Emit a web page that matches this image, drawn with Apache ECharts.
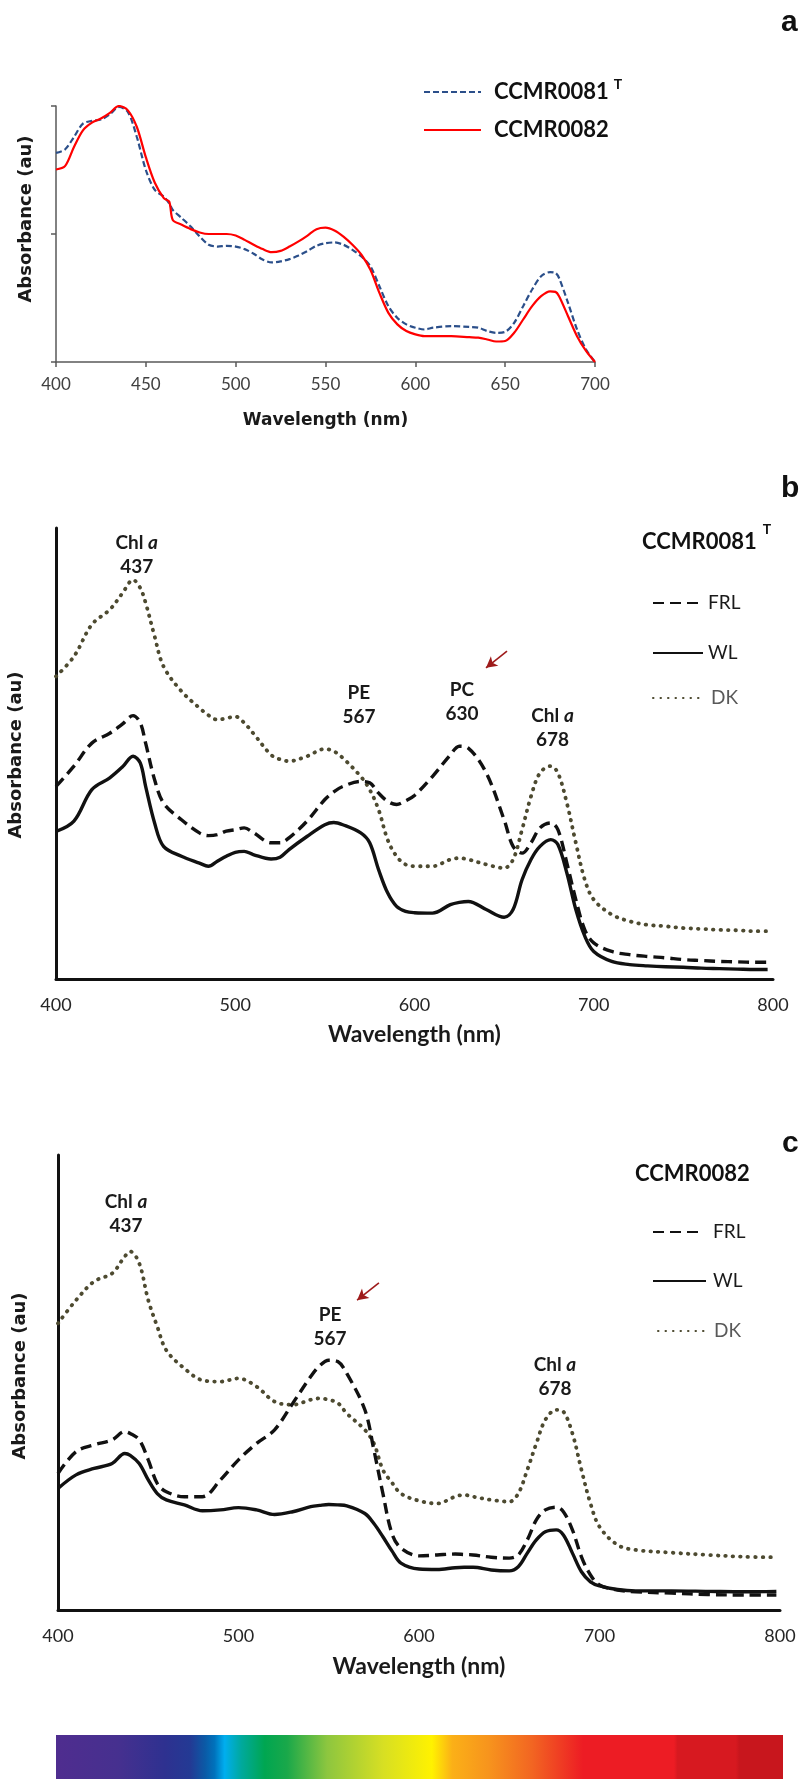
<!DOCTYPE html>
<html>
<head>
<meta charset="utf-8">
<script src="https://cdn.jsdelivr.net/npm/echarts@6/dist/echarts.min.js"></script>
<style>html,body{margin:0;padding:0;background:#fff}#c{width:809px;height:1779px}</style>
</head>
<body>
<div id="c"></div>
<script>
// ---------- Panel a ----------
const wlA = [400,405,410,415,420,425,430,435,440,445,450,455,460,463,465,470,475,480,485,490,495,500,505,510,515,520,525,530,535,540,545,550,555,560,565,570,575,580,585,590,595,600,605,610,620,630,635,640,645,650,655,660,665,670,675,678,680,685,690,695,700];
const absA81 = [0.817,0.83,0.879,0.931,0.942,0.947,0.968,0.996,0.977,0.879,0.75,0.672,0.646,0.62,0.594,0.562,0.529,0.49,0.458,0.451,0.454,0.451,0.441,0.423,0.40,0.389,0.393,0.402,0.416,0.434,0.454,0.464,0.467,0.458,0.438,0.412,0.374,0.296,0.218,0.172,0.147,0.134,0.127,0.134,0.14,0.137,0.134,0.121,0.114,0.118,0.153,0.218,0.283,0.335,0.351,0.348,0.328,0.231,0.127,0.049,0];
const absA82 = [0.752,0.765,0.84,0.905,0.935,0.951,0.973,1.0,0.983,0.918,0.80,0.70,0.64,0.627,0.555,0.536,0.519,0.506,0.50,0.50,0.50,0.494,0.477,0.458,0.441,0.429,0.434,0.451,0.471,0.494,0.519,0.525,0.514,0.49,0.458,0.419,0.36,0.27,0.192,0.147,0.121,0.108,0.101,0.101,0.101,0.097,0.095,0.088,0.08,0.082,0.114,0.166,0.218,0.257,0.276,0.274,0.257,0.179,0.101,0.043,0];

// ---------- Panel b (CCMR0081T) ----------
const wlB = [400,410,420,430,437,443,447,450,455,460,470,480,485,490,495,500,505,510,520,525,530,540,550,555,560,570,575,580,585,590,595,600,610,620,625,630,640,650,655,660,665,670,676,680,685,690,695,700,710,720,730,740,750,760,770,780,790,797];
const bDK  = [0.671,0.715,0.786,0.819,0.855,0.885,0.867,0.834,0.760,0.693,0.638,0.601,0.585,0.575,0.578,0.582,0.568,0.545,0.497,0.487,0.483,0.494,0.510,0.505,0.490,0.449,0.420,0.375,0.309,0.272,0.254,0.250,0.250,0.265,0.268,0.265,0.254,0.246,0.265,0.331,0.405,0.457,0.472,0.457,0.390,0.302,0.220,0.176,0.143,0.128,0.120,0.117,0.113,0.111,0.109,0.108,0.106,0.106];
const bFRL = [0.427,0.472,0.523,0.545,0.565,0.584,0.568,0.523,0.442,0.390,0.353,0.324,0.318,0.320,0.328,0.331,0.335,0.325,0.302,0.302,0.313,0.350,0.398,0.415,0.427,0.438,0.435,0.412,0.394,0.387,0.395,0.407,0.449,0.497,0.516,0.512,0.457,0.353,0.294,0.279,0.302,0.335,0.346,0.331,0.257,0.176,0.109,0.080,0.061,0.054,0.050,0.047,0.043,0.041,0.039,0.038,0.037,0.037];
const bWL  = [0.327,0.350,0.420,0.446,0.470,0.494,0.479,0.427,0.346,0.294,0.272,0.257,0.250,0.261,0.272,0.281,0.283,0.276,0.266,0.270,0.287,0.316,0.342,0.347,0.342,0.324,0.302,0.242,0.191,0.161,0.150,0.147,0.146,0.165,0.170,0.172,0.154,0.137,0.154,0.220,0.265,0.294,0.309,0.298,0.235,0.154,0.095,0.061,0.039,0.032,0.029,0.027,0.026,0.024,0.023,0.022,0.021,0.021];

// ---------- Panel c (CCMR0082) ----------
const wlC = [400,410,420,430,437,440,445,450,455,460,470,480,490,500,510,520,530,540,545,550,555,560,570,575,580,585,590,600,610,620,625,630,640,650,655,660,665,670,676,680,685,690,695,700,710,720,740,760,780,798];
const cDK  = [0.630,0.681,0.722,0.740,0.777,0.788,0.762,0.681,0.623,0.571,0.531,0.505,0.502,0.509,0.491,0.458,0.451,0.462,0.465,0.462,0.455,0.432,0.396,0.366,0.308,0.280,0.256,0.240,0.234,0.249,0.253,0.249,0.242,0.238,0.256,0.308,0.366,0.418,0.440,0.436,0.388,0.308,0.234,0.183,0.143,0.132,0.126,0.121,0.117,0.116];
const cFRL = [0.300,0.348,0.363,0.374,0.392,0.388,0.374,0.330,0.278,0.260,0.249,0.249,0.286,0.330,0.366,0.396,0.454,0.513,0.537,0.549,0.546,0.520,0.440,0.352,0.256,0.168,0.136,0.119,0.121,0.123,0.122,0.121,0.116,0.114,0.121,0.154,0.198,0.220,0.226,0.216,0.176,0.117,0.077,0.055,0.044,0.040,0.037,0.034,0.033,0.033];
const cWL  = [0.267,0.297,0.311,0.322,0.344,0.340,0.322,0.286,0.256,0.242,0.231,0.218,0.220,0.225,0.220,0.210,0.216,0.227,0.230,0.232,0.231,0.229,0.212,0.190,0.161,0.130,0.103,0.090,0.089,0.093,0.094,0.094,0.088,0.086,0.095,0.125,0.154,0.172,0.176,0.165,0.125,0.084,0.062,0.053,0.045,0.042,0.042,0.041,0.040,0.041];

// axis ranges / ticks [min, max, interval]
const xRangeA = [400, 700, 50];
const xRangeBC = [400, 800, 100];

// peak annotations [nm, abs, name, number, italic a]
const peaksB = [[445, 0.94, 'Chl', '437', true],[569, 0.607, 'PE', '567', false],[626.5, 0.614, 'PC', '630', false],[677, 0.557, 'Chl', '678', true]];
const peaksC = [[437.7, 0.87, 'Chl', '437', true],[550.7, 0.622, 'PE', '567', false],[675.3, 0.512, 'Chl', '678', true]];
const arrowB = [[651.6, 0.727],[639.9, 0.690]];
const arrowC = [[577.8, 0.719],[565.7, 0.681]];

// spectrum bar colour stops
const spectrumStops = [[0,'#4f2d8f'],[0.085,'#46308f'],[0.15,'#2e3190'],[0.185,'#233a94'],[0.205,'#0b5aa6'],[0.218,'#0072bc'],[0.232,'#00aeef'],[0.255,'#00a99d'],[0.287,'#00a651'],[0.318,'#1aa84a'],[0.373,'#8dc63f'],[0.45,'#d7df23'],[0.517,'#fff200'],[0.545,'#fbb017'],[0.595,'#f7941d'],[0.655,'#f26522'],[0.725,'#ed1c24'],[0.85,'#ed1c24'],[0.855,'#d71920'],[0.935,'#d71920'],[0.94,'#c8161d'],[1,'#c8161d']];

const zip = (xs, ys) => xs.map((x, i) => [x, ys[i]]);

const CAL = 'Lato, "Open Sans", sans-serif';

function peakPoints(peaks) {
  return peaks.map(p => ({
    coord: [p[0], p[1]],
    label: { formatter: p[4] ? '{b|' + p[2] + ' }{i|a}\n{b|' + p[3] + '}' : '{b|' + p[2] + '}\n{b|' + p[3] + '}' }
  }));
}
const peakLabel = {
  show: true, position: 'inside',
  rich: {
    b: { fontFamily: CAL, fontWeight: 'bold', fontSize: 19, color: '#1a1a1a', lineHeight: 24 },
    i: { fontFamily: CAL, fontWeight: 'bold', fontStyle: 'italic', fontSize: 19, color: '#1a1a1a', lineHeight: 24 }
  }
};
function markPt(peaks) {
  return { symbol: 'circle', symbolSize: 1, itemStyle: { color: 'rgba(0,0,0,0)' }, label: peakLabel, data: peakPoints(peaks), silent: true };
}
function markArrow(a) {
  return { silent: true, symbol: ['none', 'arrow'], symbolSize: [9, 11], label: { show: false },
    lineStyle: { color: '#9e1b1b', width: 1.6, type: 'solid' },
    data: [[{ coord: a[0] }, { coord: a[1] }]] };
}

const bcX = (gi, nameGap) => ({
  gridIndex: gi, type: 'value', min: xRangeBC[0], max: xRangeBC[1], interval: xRangeBC[2],
  axisLine: { show: true, lineStyle: { color: '#111', width: 3 } },
  axisTick: { show: false }, splitLine: { show: false },
  axisLabel: { margin: 17, fontFamily: CAL, fontSize: 18, color: '#262626' },
  name: 'Wavelength (nm)', nameLocation: 'middle', nameGap: nameGap,
  nameTextStyle: { fontFamily: CAL, fontWeight: 'bold', fontSize: 23, color: '#1a1a1a' }
});
const bcY = (gi) => ({
  gridIndex: gi, type: 'value', min: 0, max: 1,
  axisLine: { show: true, lineStyle: { color: '#111', width: 3 } },
  axisTick: { show: false }, axisLabel: { show: false }, splitLine: { show: false }
});

const frlStyle = { color: '#111', width: 3.4, type: [11, 6] };
const wlStyle = { color: '#111', width: 3.4, type: 'solid' };
const dkStyle = { color: '#4d4a30', width: 3.8, type: [0.5, 7], cap: 'round' };

const lineBase = { type: 'line', showSymbol: false, symbol: 'none', smooth: 0.35, animation: false };

const hideSym = { color: 'rgba(0,0,0,0)', borderColor: 'rgba(0,0,0,0)', borderWidth: 0, opacity: 0 };

const legendItem = (name, left, cy, itemWidth, color, padLeft) => ({
  data: [name], orient: 'vertical', left: left, top: cy - 12, padding: 0, itemGap: 0,
  itemWidth: itemWidth, itemHeight: 12, selectedMode: false, itemStyle: hideSym,
  textStyle: { fontFamily: CAL, fontSize: 19, color: color, lineHeight: 24, padding: [0, 0, 0, padLeft] }
});

const yName = (text, x, y) => ({ type: 'text', x: x, y: y, rotation: Math.PI / 2,
  style: { text: text, fontFamily: '"DejaVu Sans"', fontWeight: 'bold', fontSize: 18, fill: '#1a1a1a', align: 'center', verticalAlign: 'middle' } });

const option = {
  backgroundColor: '#fff',
  animation: false,
  grid: [
    { left: 56, top: 106, width: 539, height: 256 },
    { left: 56, top: 528, width: 717, height: 451 },
    { left: 58, top: 1155, width: 722, height: 455 }
  ],
  xAxis: [
    { gridIndex: 0, type: 'value', min: xRangeA[0], max: xRangeA[1], interval: xRangeA[2],
      axisLine: { show: true, lineStyle: { color: '#595959', width: 1.5 } },
      axisTick: { show: true, length: 5, lineStyle: { color: '#595959', width: 1.5 } },
      splitLine: { show: false },
      axisLabel: { margin: 14, fontFamily: CAL, fontSize: 17, color: '#404040' },
      name: 'Wavelength (nm)', nameLocation: 'middle', nameGap: 50,
      nameTextStyle: { fontFamily: '"DejaVu Sans", Verdana, sans-serif', fontWeight: 'bold', fontSize: 17, color: '#1a1a1a' } },
    bcX(1, 44),
    bcX(2, 45)
  ],
  yAxis: [
    { gridIndex: 0, type: 'value', min: 0, max: 1, interval: 0.5,
      axisLine: { show: true, lineStyle: { color: '#595959', width: 1.5 } },
      axisTick: { show: true, length: 5, lineStyle: { color: '#595959', width: 1.5 } },
      axisLabel: { show: false }, splitLine: { show: false } },
    bcY(1),
    bcY(2)
  ],
  legend: [
    { data: ['CCMR0081T'], orient: 'vertical', left: 423, top: 92 - 15, padding: 0, itemWidth: 57, itemHeight: 12, selectedMode: false, itemStyle: hideSym,
      formatter: () => '{n|CCMR0081}{s|T}',
      textStyle: { padding: [0, 0, 0, 8], rich: {
        n: { fontFamily: CAL, fontWeight: 'bold', fontSize: 22, color: '#111', lineHeight: 30 },
        s: { fontFamily: CAL, fontWeight: 'bold', fontSize: 14, color: '#111', lineHeight: 30, verticalAlign: 'top', padding: [0, 0, 0, 5] } } } },
    { data: ['CCMR0082'], orient: 'vertical', left: 423, top: 130 - 15, padding: 0, itemWidth: 57, itemHeight: 12, selectedMode: false, itemStyle: hideSym,
      textStyle: { padding: [0, 0, 0, 8], fontFamily: CAL, fontWeight: 'bold', fontSize: 22, color: '#111', lineHeight: 30 } },
    legendItem('FRL', 652, 603, 45, '#1a1a1a', 5),
    legendItem('WL', 652, 653, 50, '#1a1a1a', 0),
    legendItem('DK', 652, 698, 48, '#595959', 5),
    legendItem('FRL', 652, 1232, 45, '#1a1a1a', 10),
    legendItem('WL', 652, 1281, 53, '#1a1a1a', 2),
    legendItem('DK', 657, 1331, 48, '#595959', 3)
  ],
  series: [
    Object.assign({}, lineBase, { name: 'CCMR0081T', xAxisIndex: 0, yAxisIndex: 0, data: zip(wlA, absA81), smooth: 0.3,
      lineStyle: { color: '#2b4f8a', width: 2.2, type: [6, 3] }, itemStyle: { color: '#2b4f8a' } }),
    Object.assign({}, lineBase, { name: 'CCMR0082', xAxisIndex: 0, yAxisIndex: 0, data: zip(wlA, absA82), smooth: 0.3,
      lineStyle: { color: '#ff0000', width: 2.2, type: 'solid' }, itemStyle: { color: '#ff0000' } }),

    Object.assign({}, lineBase, { name: 'DK', xAxisIndex: 1, yAxisIndex: 1, data: zip(wlB, bDK), lineStyle: dkStyle, itemStyle: { color: '#4d4a30' } }),
    Object.assign({}, lineBase, { name: 'FRL', xAxisIndex: 1, yAxisIndex: 1, data: zip(wlB, bFRL), lineStyle: frlStyle, itemStyle: { color: '#111' },
      markPoint: markPt(peaksB), markLine: markArrow(arrowB) }),
    Object.assign({}, lineBase, { name: 'WL', xAxisIndex: 1, yAxisIndex: 1, data: zip(wlB, bWL), lineStyle: wlStyle, itemStyle: { color: '#111' } }),

    Object.assign({}, lineBase, { name: 'DK', xAxisIndex: 2, yAxisIndex: 2, data: zip(wlC, cDK), lineStyle: dkStyle, itemStyle: { color: '#4d4a30' } }),
    Object.assign({}, lineBase, { name: 'FRL', xAxisIndex: 2, yAxisIndex: 2, data: zip(wlC, cFRL), lineStyle: frlStyle, itemStyle: { color: '#111' },
      markPoint: markPt(peaksC), markLine: markArrow(arrowC) }),
    Object.assign({}, lineBase, { name: 'WL', xAxisIndex: 2, yAxisIndex: 2, data: zip(wlC, cWL), lineStyle: wlStyle, itemStyle: { color: '#111' } })
  ],
  graphic: [
    yName('Absorbance (au)', 26, 219),
    yName('Absorbance (au)', 16, 755),
    yName('Absorbance (au)', 20, 1376),
    { type: 'text', left: 781, top: 8, style: { text: 'a', font: 'bold 30px "Liberation Sans", Arial, sans-serif', fill: '#111' } },
    { type: 'text', left: 781, top: 474, style: { text: 'b', font: 'bold 30px "Liberation Sans", Arial, sans-serif', fill: '#111' } },
    { type: 'text', left: 782, top: 1129, style: { text: 'c', font: 'bold 30px "Liberation Sans", Arial, sans-serif', fill: '#111' } },
    { type: 'text', left: 642, top: 522, style: { text: '{n|CCMR0081}{s|T}', rich: {
        n: { fontFamily: CAL, fontWeight: 'bold', fontSize: 22, fill: '#111', lineHeight: 40 },
        s: { fontFamily: CAL, fontWeight: 'bold', fontSize: 14, fill: '#111', lineHeight: 40, verticalAlign: 'top', padding: [0, 0, 0, 6] } } } },
    { type: 'text', left: 635, top: 1163, style: { text: 'CCMR0082', font: 'bold 22px Lato, sans-serif', fill: '#111' } },
    { type: 'rect', shape: { x: 56, y: 1735, width: 727, height: 44 },
      style: { fill: new echarts.graphic.LinearGradient(0, 0, 1, 0, spectrumStops.map(s => ({ offset: s[0], color: s[1] }))) } }
  ]
};

const chart = echarts.init(document.getElementById('c'), null, { renderer: 'canvas' });
chart.setOption(option);
</script>
</body>
</html>
